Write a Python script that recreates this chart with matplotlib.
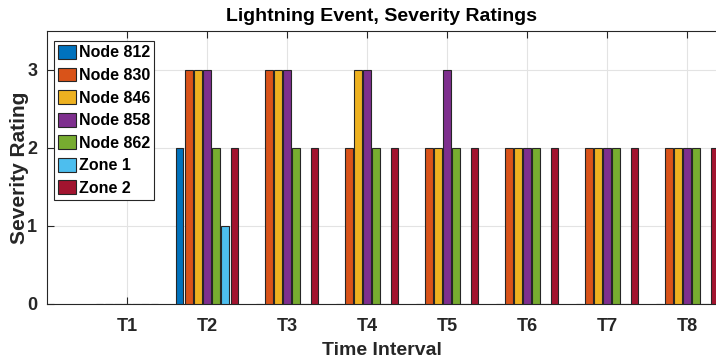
import matplotlib

matplotlib.use("Agg")
import matplotlib.pyplot as plt
import numpy as np

intervals = ["T1", "T2", "T3", "T4", "T5", "T6", "T7", "T8"]
series = ["Node 812", "Node 830", "Node 846", "Node 858", "Node 862", "Zone 1", "Zone 2"]
node_812 = [0, 2, 0, 0, 0, 0, 0, 0]
node_830 = [0, 3, 3, 2, 2, 2, 2, 2]
node_846 = [0, 3, 3, 3, 2, 2, 2, 2]
node_858 = [0, 3, 3, 3, 3, 2, 2, 2]
node_862 = [0, 2, 2, 2, 2, 2, 2, 2]
zone_1 = [0, 1, 0, 0, 0, 0, 0, 0]
zone_2 = [0, 2, 2, 2, 2, 2, 2, 2]

# MATLAB default line colour order
colors = ["#0072BD", "#D95319", "#EDB120", "#7E2F8E", "#77AC30", "#4DBEEE", "#A2142F"]

plt.rcParams["font.family"] = ["Liberation Sans", "DejaVu Sans"]
ink = "#262626"

fig = plt.figure(figsize=(7.16, 3.6), dpi=100)
ax = fig.add_axes([47 / 716, 56 / 360, 669 / 716, 273 / 360])

x = np.arange(1, len(intervals) + 1)
data = [node_812, node_830, node_846, node_858, node_862, zone_1, zone_2]
step = 0.8 / len(series)
for i, (name, vals, col) in enumerate(zip(series, data, colors)):
    ax.bar(x + (i - 3) * step, vals, width=step * 0.84, color=col,
           edgecolor=ink, linewidth=0.8, label=name, zorder=3)

ax.set_xlim(0, 8.3625)
ax.set_ylim(0, 3.5)
ax.set_xticks(x)
ax.set_xticklabels(intervals, fontsize=13, fontweight="bold")
ax.set_yticks([0, 1, 2, 3])
ax.set_yticklabels(["0", "1", "2", "3"], fontsize=13, fontweight="bold")
ax.tick_params(direction="in", top=True, right=False, length=5, width=0.8,
               colors=ink)
ax.tick_params(axis="x", pad=10)
ax.tick_params(axis="y", pad=7)
ax.grid(True, color="#e3e3e3", linewidth=0.8, zorder=0)
ax.set_axisbelow(True)
for side in ["top", "left", "bottom"]:
    ax.spines[side].set_color(ink)
    ax.spines[side].set_linewidth(0.8)
ax.spines["right"].set_visible(False)

ax.set_title("Lightning Event, Severity Ratings", fontsize=14, fontweight="bold", pad=7)
ax.set_xlabel("Time Interval", fontsize=14, fontweight="bold", color=ink, labelpad=5)
ax.set_ylabel("Severity Rating", fontsize=15, fontweight="bold", color=ink, labelpad=-1)

leg = ax.legend(loc="upper left", bbox_to_anchor=(0.0105, 0.963),
                prop={"weight": "bold", "size": 11.5}, frameon=True, fancybox=False,
                edgecolor=ink, handlelength=1.1, handleheight=0.95,
                handletextpad=0.2, labelspacing=0.45, borderpad=0.25, borderaxespad=0)
leg.get_frame().set_linewidth(0.8)
leg.get_frame().set_alpha(1)

fig.savefig("out.png", dpi=100)
